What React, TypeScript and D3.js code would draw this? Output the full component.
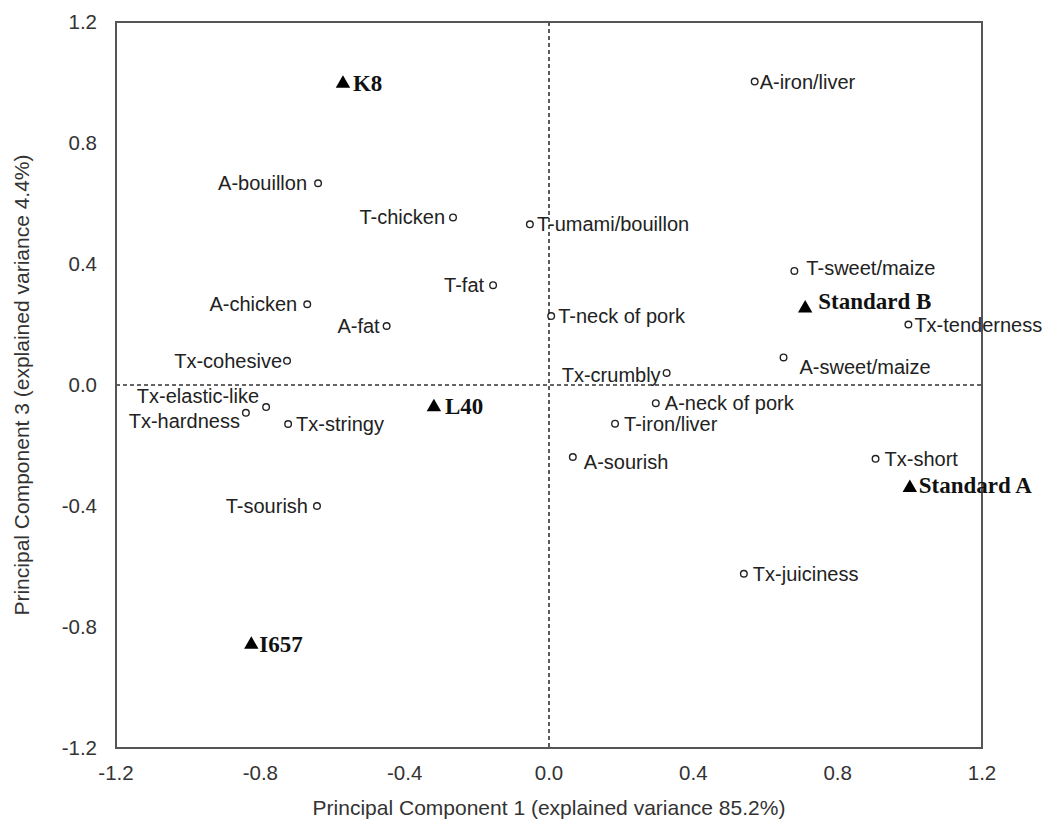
import React from "react";
import * as d3 from "d3";

// ---- data ----
const attrNames = [
  "A-iron/liver", "A-bouillon", "T-chicken", "T-umami/bouillon", "T-fat",
  "A-chicken", "A-fat", "Tx-cohesive", "Tx-elastic-like", "Tx-hardness",
  "Tx-stringy", "T-sourish", "T-neck of pork", "T-sweet/maize", "Tx-tenderness",
  "A-sweet/maize", "Tx-crumbly", "A-neck of pork", "T-iron/liver", "A-sourish",
  "Tx-short", "Tx-juiciness",
];
const attrPC1 = [
  0.57, -0.64, -0.266, -0.053, -0.155,
  -0.67, -0.45, -0.726, -0.784, -0.84,
  -0.723, -0.643, 0.006, 0.68, 0.996,
  0.65, 0.326, 0.296, 0.183, 0.066,
  0.905, 0.54,
];
const attrPC3 = [
  1.003, 0.667, 0.554, 0.531, 0.33,
  0.267, 0.195, 0.08, -0.073, -0.092,
  -0.129, -0.4, 0.228, 0.377, 0.2,
  0.091, 0.04, -0.06, -0.128, -0.238,
  -0.244, -0.624,
];

const sampleNames = ["K8", "L40", "I657", "Standard B", "Standard A"];
const samplePC1 = [-0.571, -0.319, -0.825, 0.71, 1.0];
const samplePC3 = [1.0, -0.07, -0.855, 0.257, -0.337];

const tickValues = [-1.2, -0.8, -0.4, 0.0, 0.4, 0.8, 1.2];
const xTitle = "Principal Component 1 (explained variance 85.2%)";
const yTitle = "Principal Component 3 (explained variance 4.4%)";

// ---- label layout (side, dx, dy in px) ----
const attrLabelLayout: Record<string, [string, number, number]> = {
  "A-iron/liver": ["r", 5, 0],
  "A-bouillon": ["l", -11, 0],
  "T-chicken": ["l", -8, 0],
  "T-umami/bouillon": ["r", 7, 0],
  "T-fat": ["l", -9, 0],
  "A-chicken": ["l", -10, 0],
  "A-fat": ["l", -7, 0],
  "Tx-cohesive": ["l", -5, 0],
  "Tx-elastic-like": ["l", -7, -11],
  "Tx-hardness": ["l", -6, 8],
  "Tx-stringy": ["r", 8, 0],
  "T-sourish": ["l", -9, 0],
  "T-neck of pork": ["r", 7, 0],
  "T-sweet/maize": ["r", 12, -3],
  "Tx-tenderness": ["r", 6, 0],
  "A-sweet/maize": ["r", 16, 10],
  "Tx-crumbly": ["l", -6, 2],
  "A-neck of pork": ["r", 9, 0],
  "T-iron/liver": ["r", 9, 0],
  "A-sourish": ["r", 11, 5],
  "Tx-short": ["r", 9, 0],
  "Tx-juiciness": ["r", 9, 0],
};
const sampleLabelLayout: Record<string, [number, number]> = {
  "K8": [10, 0],
  "L40": [11, 0],
  "I657": [8, 0],
  "Standard B": [13, -6],
  "Standard A": [9, -2],
};

const W = 1053;
const H = 833;
const M = { left: 116, right: 71, top: 22, bottom: 85 };

export default function App() {
  const x = d3.scaleLinear().domain([-1.2, 1.2]).range([M.left, W - M.right]);
  const y = d3.scaleLinear().domain([-1.2, 1.2]).range([H - M.bottom, M.top]);
  const fmt = (v: number) => v.toFixed(1);
  const tri = d3.symbol().type(d3.symbolTriangle).size(90)();
  const sans = "Arial, 'Liberation Sans', sans-serif";
  const serif = "'Times New Roman', 'Liberation Serif', serif";
  const textColor = "#222";

  return (
    <svg
      width={W}
      height={H}
      style={{ position: "absolute", left: 0, top: 0, background: "#fff" }}
    >
      <rect x={0} y={0} width={W} height={H} fill="#fff" />
      {/* zero lines */}
      <line
        x1={x(0)} x2={x(0)} y1={y(1.2)} y2={y(-1.2)}
        stroke="#333" strokeWidth={1.6} strokeDasharray="4,3"
      />
      <line
        x1={x(-1.2)} x2={x(1.2)} y1={y(0)} y2={y(0)}
        stroke="#333" strokeWidth={1.6} strokeDasharray="4,3"
      />
      {/* frame */}
      <rect
        x={x(-1.2)} y={y(1.2)}
        width={x(1.2) - x(-1.2)} height={y(-1.2) - y(1.2)}
        fill="none" stroke="#555" strokeWidth={2}
      />
      {/* y ticks */}
      {tickValues.map((v) => (
        <text
          key={"y" + v}
          x={M.left - 19}
          y={y(v)}
          dy="0.35em"
          textAnchor="end"
          fontFamily={sans}
          fontSize={20.5}
          fill="#333"
        >
          {fmt(v)}
        </text>
      ))}
      {/* x ticks */}
      {tickValues.map((v) => (
        <text
          key={"x" + v}
          x={x(v)}
          y={y(-1.2) + 25}
          dy="0.35em"
          textAnchor="middle"
          fontFamily={sans}
          fontSize={20.5}
          fill="#333"
        >
          {fmt(v)}
        </text>
      ))}
      {/* axis titles */}
      <text
        x={(x(-1.2) + x(1.2)) / 2}
        y={815}
        textAnchor="middle"
        fontFamily={sans}
        fontSize={21}
        fill="#333"
      >
        {xTitle}
      </text>
      <text
        transform={`translate(29, ${(y(1.2) + y(-1.2)) / 2}) rotate(-90)`}
        textAnchor="middle"
        fontFamily={sans}
        fontSize={21}
        fill="#333"
      >
        {yTitle}
      </text>
      {/* attribute points */}
      {attrNames.map((n, i) => {
        const cx = x(attrPC1[i]);
        const cy = y(attrPC3[i]);
        const [side, dx, dy] = attrLabelLayout[n];
        return (
          <g key={n}>
            <circle cx={cx} cy={cy} r={3.3} fill="#fff" stroke="#222" strokeWidth={1.4} />
            <text
              x={cx + dx}
              y={cy + dy}
              dy="0.35em"
              textAnchor={side === "l" ? "end" : "start"}
              fontFamily={sans}
              fontSize={20}
              fill={textColor}
            >
              {n}
            </text>
          </g>
        );
      })}
      {/* sample points */}
      {sampleNames.map((n, i) => {
        const cx = x(samplePC1[i]);
        const cy = y(samplePC3[i]);
        const [dx, dy] = sampleLabelLayout[n];
        return (
          <g key={n}>
            <path d={tri || ""} transform={`translate(${cx},${cy + 1})`} fill="#000" />
            <text
              x={cx + dx}
              y={cy + dy}
              dy="0.35em"
              fontFamily={serif}
              fontWeight="bold"
              fontSize={23}
              fill="#111"
            >
              {n}
            </text>
          </g>
        );
      })}
    </svg>
  );
}
